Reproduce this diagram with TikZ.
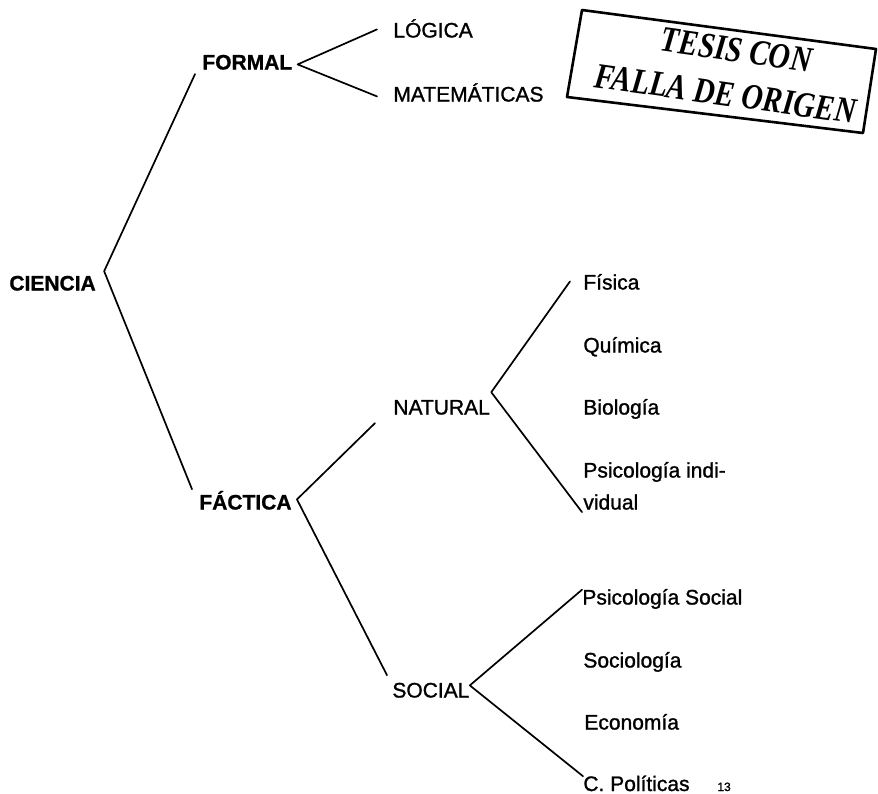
\documentclass[tikz,border=0pt]{standalone}
\usepackage{fontspec}
\setmainfont{Liberation Sans}
\newfontfamily\hojafont{Liberation Sans}[FakeBold=1.2]
\newfontfamily\catfont{Liberation Sans}[UprightFont={* Bold}, FakeBold=1]
\newfontfamily\sellofont{Liberation Serif}
\begin{document}
\begin{tikzpicture}[x=0.5pt, y=-0.5pt, line join=round, line cap=round,
  every node/.style={inner sep=0pt, anchor=base west, text height=0.72em, text depth=0.21em},
  cat/.style={font=\catfont\fontsize{10.5}{12}\selectfont},
  sub/.style={font=\hojafont\fontsize{10.5}{12}\selectfont},
  rama/.style={line width=0.85pt},
  sello/.style={anchor=center, rotate=-8, xscale=0.82, text height=0.66em, text depth=0pt, font=\sellofont\bfseries\itshape\fontsize{18}{20}\selectfont}]
\useasboundingbox (0,0) rectangle (878,793);
\node[cat] (ciencia) at (9,290.5) {CIENCIA};
\node[cat] (formal) at (202,69.5) {FORMAL};
\node[cat] (factica) at (199,509.5) {FÁCTICA};
\node[sub] (logica) at (393,37.5) {LÓGICA};
\node[sub] (mate) at (393,101.5) {MATEMÁTICAS};
\node[sub] (natural) at (393,414.5) {NATURAL};
\node[sub] (social) at (392,697.5) {SOCIAL};
\node[sub] (fisica) at (583,289.5) {Física};
\node[sub] (quimica) at (583,352.5) {Química};
\node[sub] (biologia) at (583,414.5) {Biología};
\node[sub] (psicind) at (583,477.5) {Psicología indi-};
\node[sub] (vidual) at (583,509.5) {vidual};
\node[sub] (psocial) at (582,604.5) {Psicología Social};
\node[sub] (sociologia) at (583,667.5) {Sociología};
\node[sub] (economia) at (584,729.5) {Economía};
\node[sub] (cpol) at (583,791) {C. Políticas};
\node[font=\hojafont\fontsize{6}{7}\selectfont] (pag) at (717,791) {13};
\draw[rama] ([xshift=-3.5pt]formal.south west) -- ([xshift=4pt,yshift=2.25pt]ciencia.north east) -- ([xshift=-3.5pt,yshift=2.75pt]factica.north west);
\draw[rama] ([xshift=-8pt,yshift=1.5pt]logica.west) -- ([xshift=2.5pt]formal.east) -- ([xshift=-8pt]mate.west);
\draw[rama] ([xshift=-9pt,yshift=-2pt]natural.south west) -- ([xshift=2.5pt,yshift=2.5pt]factica.east) -- ([xshift=-2.5pt,yshift=3.75pt]social.north west);
\draw[rama] ([xshift=-6.5pt,yshift=1.5pt]fisica.west) -- ([xshift=0.5pt,yshift=3.75pt]natural.north east) -- ([xshift=-0.5pt,yshift=1pt]vidual.south west);
\draw[rama] (psocial.north west) -- ([yshift=3.5pt]social.east) -- (cpol.north west);
% sello
\draw[line width=1.3pt] (582,10) -- (876,49) -- (863,133) -- (567,97) -- cycle;
\node[sello] (tesis) at (736,55) {TESIS CON};
\node[sello] (falla) at (725,99) {FALLA DE ORIGEN};
\end{tikzpicture}
\end{document}
